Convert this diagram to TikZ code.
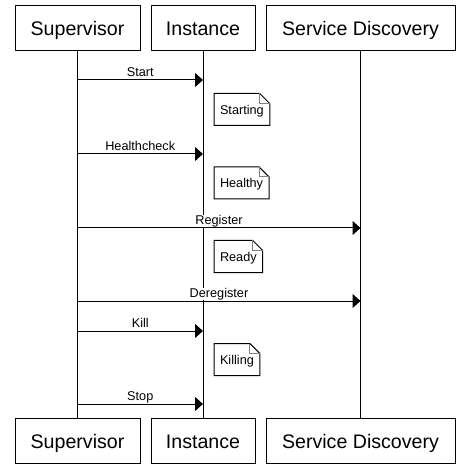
\documentclass[tikz,border=0pt]{standalone}
\usepackage{fontspec}
\setmainfont{Liberation Sans}
\usetikzlibrary{arrows.meta}

\begin{document}
\begin{tikzpicture}[x=1pt,y=-1pt,line width=1pt,
  actor/.style={draw,minimum height=45pt,inner sep=0pt,text height=18pt,text depth=3pt,font=\fontsize{19.6}{22}\selectfont},
  msg/.style={-{Triangle[length=8pt,width=14pt]}},
  lbl/.style={fill=white,inner xsep=1pt,inner ysep=0pt,anchor=base,yshift=3.5pt,font=\fontsize{12.7}{14}\selectfont},
  note/.style={anchor=west,minimum height=31pt,inner xsep=5.5pt,text height=11pt,text depth=1.5pt,font=\fontsize{12.7}{14}\selectfont}]
\useasboundingbox (0,0) rectangle (469,468);

\node[actor,minimum width=125pt] (supT) at (77.5,28.5) {Supervisor};
\node[actor,minimum width=104pt] (insT) at (203,28.5) {Instance};
\node[actor,minimum width=189pt] (sdT) at (360.5,28.5) {Service Discovery};
\node[actor,minimum width=125pt] (supB) at (77.5,440.5) {Supervisor};
\node[actor,minimum width=104pt] (insB) at (203,440.5) {Instance};
\node[actor,minimum width=189pt] (sdB) at (360.5,440.5) {Service Discovery};

\draw (supT.south) -- (supB.north);
\draw (insT.south) -- (insB.north);
\draw (sdT.south) -- (sdB.north);

\coordinate (start) at (0,80);
\coordinate (health) at (0,154);
\coordinate (reg) at (0,228);
\coordinate (dereg) at (0,301);
\coordinate (kill) at (0,331);
\coordinate (stop) at (0,404);

\draw[msg] (supT |- start) -- (insT |- start) node[lbl,midway] {Start};
\draw[msg] (supT |- health) -- (insT |- health) node[lbl,midway] {Healthcheck};
\draw[msg] (supT |- reg) -- (sdT |- reg) node[lbl,midway] {Register};
\draw[msg] (supT |- dereg) -- (sdT |- dereg) node[lbl,midway] {Deregister};
\draw[msg] (supT |- kill) -- (insT |- kill) node[lbl,midway] {Kill};
\draw[msg] (supT |- stop) -- (insT |- stop) node[lbl,midway] {Stop};

\node[note] (starting) at (214,109.5) {Starting};
\draw (starting.north west) -- ([xshift=-10pt]starting.north east) -- ([yshift=-10pt]starting.north east) -- (starting.south east) -- (starting.south west) -- cycle;
\draw[gray] ([xshift=-10pt]starting.north east) |- ([yshift=-10pt]starting.north east);

\node[note] (healthy) at (214,183) {Healthy};
\draw (healthy.north west) -- ([xshift=-10pt]healthy.north east) -- ([yshift=-10pt]healthy.north east) -- (healthy.south east) -- (healthy.south west) -- cycle;
\draw[gray] ([xshift=-10pt]healthy.north east) |- ([yshift=-10pt]healthy.north east);

\node[note] (ready) at (214,256.5) {Ready};
\draw (ready.north west) -- ([xshift=-10pt]ready.north east) -- ([yshift=-10pt]ready.north east) -- (ready.south east) -- (ready.south west) -- cycle;
\draw[gray] ([xshift=-10pt]ready.north east) |- ([yshift=-10pt]ready.north east);

\node[note] (killing) at (214,359.5) {Killing};
\draw (killing.north west) -- ([xshift=-10pt]killing.north east) -- ([yshift=-10pt]killing.north east) -- (killing.south east) -- (killing.south west) -- cycle;
\draw[gray] ([xshift=-10pt]killing.north east) |- ([yshift=-10pt]killing.north east);
\end{tikzpicture}
\end{document}
